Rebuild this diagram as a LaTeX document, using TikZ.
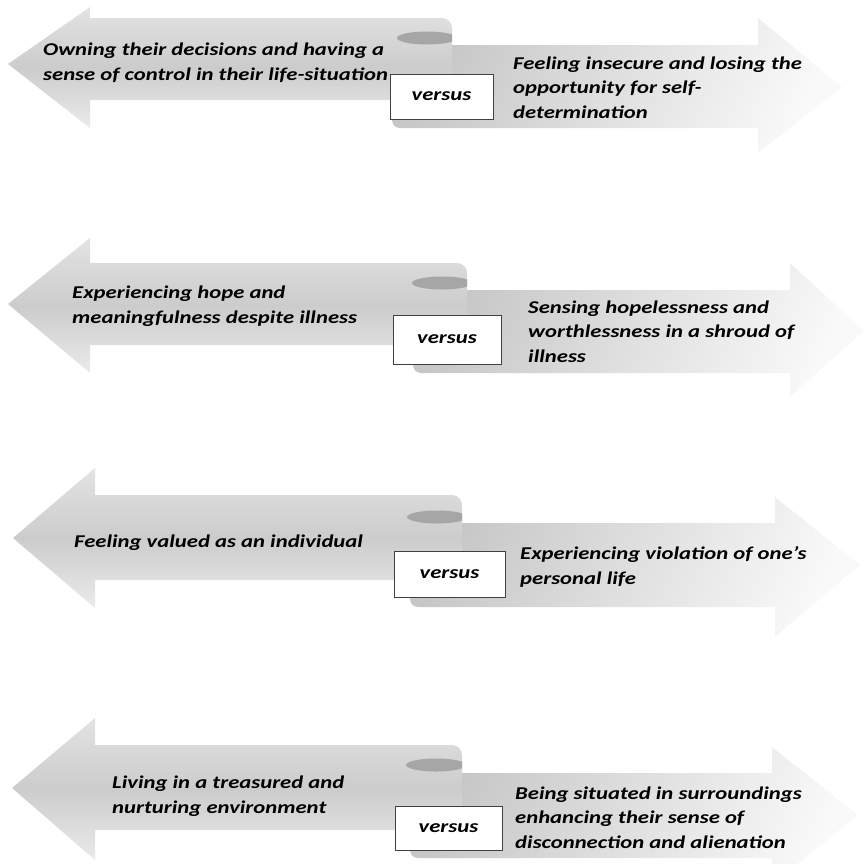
\documentclass[tikz,border=0pt]{standalone}
\usepackage{fontspec}
\setmainfont{Carlito}[FakeStretch=1.26]
\begin{document}
\begin{tikzpicture}[x=1pt,y=-1pt,
  larrow/.style={top color=gray!22, bottom color=gray!16, middle color=gray!40},
  rarrow/.style={shading=axis, left color=gray!44, right color=gray!5, shading angle=65},
  curl/.style={fill=gray!70},
  vsbox/.style={draw=black!75, line width=0.8pt, fill=white, inner sep=0pt,
    font=\fontsize{18}{24}\selectfont\bfseries\itshape},
  txt/.style={anchor=base west, align=left, inner sep=0pt,
    font=\fontsize{18}{24.5}\selectfont\bfseries\itshape}]
\useasboundingbox (0,0) rectangle (865,863);
\clip (0,0) rectangle (865,863);

% ---------- Row 1 ----------
\shade[rarrow] (600,128) [rounded corners=8] -- (392,128) -- (392,45) -- (600,45)
  [sharp corners] -- (758,45) -- (758,18) -- (842,87) -- (758,153) -- (758,128) -- cycle;
\shade[larrow] (90,18) -- (300,18) [rounded corners=10] -- (452,18) -- (452,100) -- (300,100)
  [sharp corners] -- (90,100) -- (90,128) -- (8,64) -- (90,7) -- cycle;
\begin{scope}
  \clip (380,20) rectangle (452,50);
  \fill[curl] (427,38) ellipse [x radius=30, y radius=6.5];
\end{scope}
\node[vsbox, minimum width=103, minimum height=45] (v1) at (441.5,96.5) {versus};
\node[txt] (l1) at (43,80) {Owning their decisions and having a\\sense of control in their life-situation};
\node[txt] (r1) at (513,118) {Feeling insecure and losing the\\opportunity for self-\\determination};

% ---------- Row 2 ----------
\shade[rarrow] (600,373) [rounded corners=8] -- (413,373) -- (413,290) -- (600,290)
  [sharp corners] -- (790,290) -- (790,263) -- (864,331) -- (790,397) -- (790,373) -- cycle;
\shade[larrow] (90,263) -- (300,263) [rounded corners=10] -- (467,263) -- (467,345) -- (300,345)
  [sharp corners] -- (90,345) -- (90,373) -- (8,304) -- (90,238) -- cycle;
\begin{scope}
  \clip (395,265) rectangle (467,300);
  \fill[curl] (442,283) ellipse [x radius=30, y radius=6.5];
\end{scope}
\node[vsbox, minimum width=108, minimum height=49] (v2) at (447,339.5) {versus};
\node[txt] (l2) at (72,323) {Experiencing hope and\\meaningfulness despite illness};
\node[txt] (r2) at (528,362) {Sensing hopelessness and\\worthlessness in a shroud of\\illness};

% ---------- Row 3 ----------
\shade[rarrow] (600,607) [rounded corners=8] -- (410,607) -- (410,523) -- (600,523)
  [sharp corners] -- (775,523) -- (775,497) -- (860,565) -- (775,637) -- (775,607) -- cycle;
\shade[larrow] (95,495) -- (300,495) [rounded corners=10] -- (462,495) -- (462,580) -- (300,580)
  [sharp corners] -- (95,580) -- (95,608) -- (13,538) -- (95,468) -- cycle;
\begin{scope}
  \clip (390,500) rectangle (462,535);
  \fill[curl] (437,517) ellipse [x radius=30, y radius=6.5];
\end{scope}
\node[vsbox, minimum width=111, minimum height=46] (v3) at (449.5,574) {versus};
\node[txt] (l3) at (74,547) {Feeling valued as an individual};
\node[txt] (r3) at (520,584) {Experiencing violation of one’s\\personal life};

% ---------- Row 4 ----------
\shade[rarrow] (600,858) [rounded corners=8] -- (410,858) -- (410,773) -- (600,773)
  [sharp corners] -- (772,773) -- (772,747) -- (858,815) -- (772,885) -- (772,858) -- cycle;
\shade[larrow] (95,745) -- (300,745) [rounded corners=10] -- (462,745) -- (462,830) -- (300,830)
  [sharp corners] -- (95,830) -- (95,860) -- (12,788) -- (95,718) -- cycle;
\begin{scope}
  \clip (390,748) rectangle (462,783);
  \fill[curl] (436,765) ellipse [x radius=30, y radius=6.5];
\end{scope}
\node[vsbox, minimum width=107, minimum height=44] (v4) at (448.5,828) {versus};
\node[txt] (l4) at (112,813) {Living in a treasured and\\nurturing environment};
\node[txt] (r4) at (515,848) {Being situated in surroundings\\enhancing their sense of\\disconnection and alienation};
\end{tikzpicture}
\end{document}
